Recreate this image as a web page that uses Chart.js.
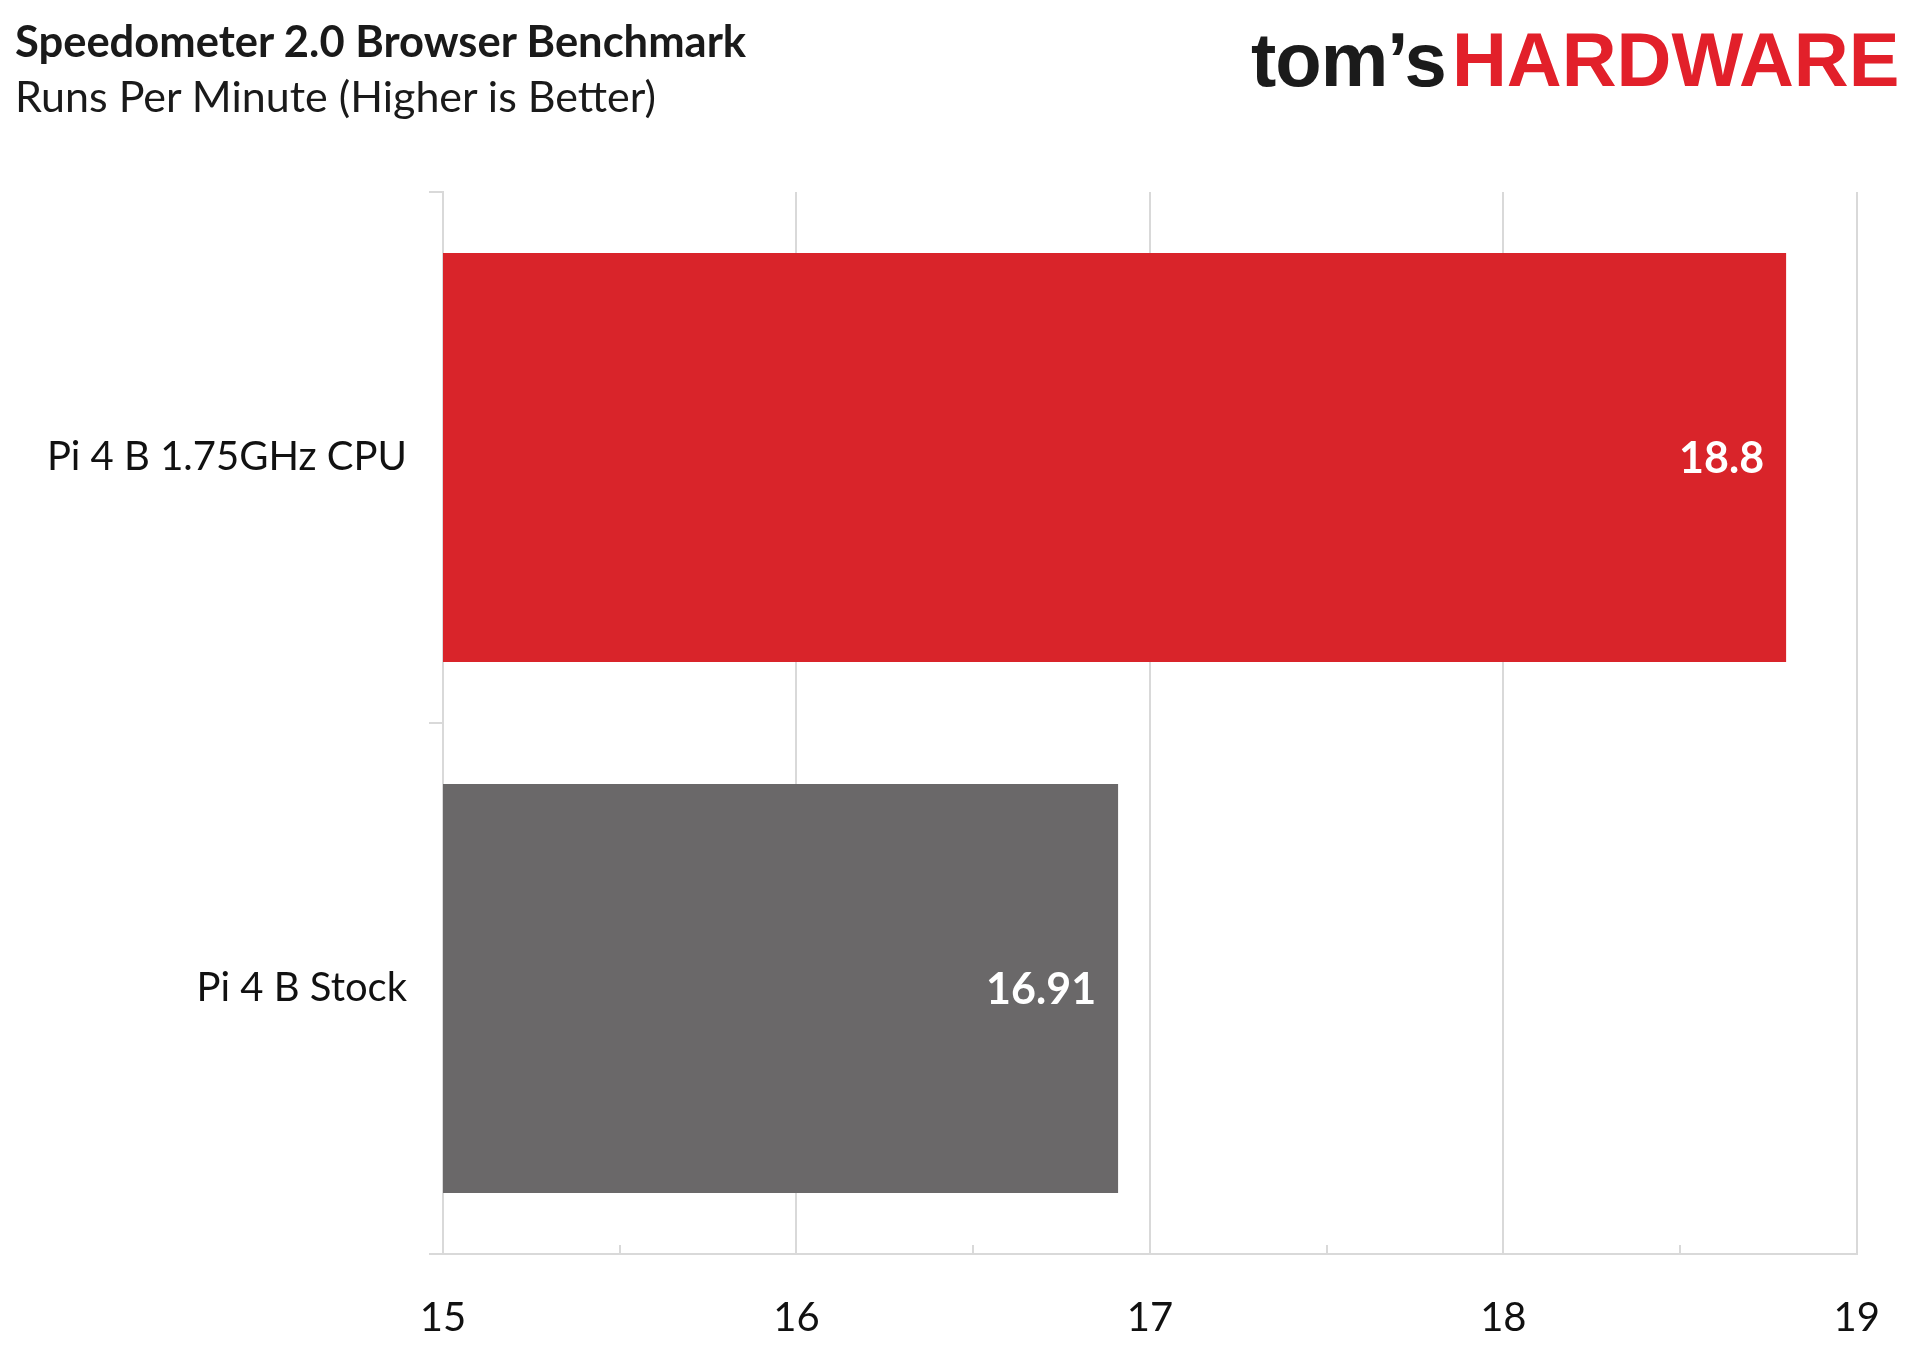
<!DOCTYPE html>
<html>
<head>
<meta charset="utf-8">
<script src="https://cdn.jsdelivr.net/npm/chart.js@4.4.1/dist/chart.umd.min.js"></script>
<style>
	html, body { margin: 0; padding: 0; background: #fff; }
	#wrap { position: relative; width: 1920px; height: 1347px; overflow: hidden; }
	#chart { position: absolute; left: 0; top: 0; }
	.title { position: absolute; left: 15px; top: 14px; font-family: Lato, sans-serif; font-weight: bold; font-size: 43.5px; color: #1a1a1a; }
	.subtitle { position: absolute; left: 15px; top: 70px; font-family: Lato, sans-serif; font-size: 43px; color: #1a1a1a; }
	.logo { position: absolute; left: 1251px; top: 16px; font-family: "Liberation Sans", Arial, sans-serif; font-weight: bold; font-size: 76px; letter-spacing: -1px; white-space: nowrap; }
	.logo .toms { color: #1b1b1b; }
	.logo .hw { color: #e2202a; margin-left: 6px; letter-spacing: 0px; }
</style>
</head>
<body>
<div id="wrap">
	<canvas id="chart" width="1920" height="1347"></canvas>
	<div class="title">Speedometer 2.0 Browser Benchmark</div>
	<div class="subtitle">Runs Per Minute (Higher is Better)</div>
	<div class="logo"><span class="toms">tom’s</span><span class="hw">HARDWARE</span></div>
</div>
<script>
	// 데이터
	let labels = ["Pi 4 B 1.75GHz CPU", "Pi 4 B Stock"];
	let scores = [18.8, 16.91];
	let barColors = ["#d9242a", "#6a6869"];
	let xTicks = [15, 16, 17, 18, 19];

	let fontName = "Lato, 'Open Sans', sans-serif";
	let gridColor = "#d9d9d9";

	// 막대 끝 안쪽에 값 표시
	let valueLabels = {
		id: "valueLabels",
		afterDatasetsDraw: function(chart) {
			let ctx = chart.ctx;
			let meta = chart.getDatasetMeta(0);
			ctx.save();
			ctx.font = "bold 43px " + fontName;
			ctx.fillStyle = "#ffffff";
			ctx.textAlign = "right";
			ctx.textBaseline = "middle";
			meta.data.forEach(function(bar, i) {
				ctx.fillText(String(scores[i]), bar.x - 22, bar.y + 2);
			});
			ctx.restore();
		}
	};

	// x축 보조 눈금 (0.5 단위)
	let minorTicks = {
		id: "minorTicks",
		afterDraw: function(chart) {
			let ctx = chart.ctx;
			let xs = chart.scales.x;
			let bottom = chart.chartArea.bottom;
			ctx.save();
			ctx.strokeStyle = gridColor;
			ctx.lineWidth = 2;
			for (let i = 0; i < xTicks.length - 1; i++) {
				let px = Math.round(xs.getPixelForValue(xTicks[i] + 0.5));
				ctx.beginPath();
				ctx.moveTo(px, bottom);
				ctx.lineTo(px, bottom - 9);
				ctx.stroke();
			}
			ctx.restore();
		}
	};

	let ctx = document.getElementById("chart");

	let benchChart = new Chart(ctx, {
		type: "bar",
		data: {
			labels: labels,
			datasets: [{
				data: scores,
				backgroundColor: barColors,
				borderWidth: 0,
				categoryPercentage: 0.77,
				barPercentage: 1.0
			}]
		},
		options: {
			indexAxis: "y",
			responsive: false,
			animation: false,
			layout: {
				padding: { left: 0, right: 61, top: 192, bottom: 0 }
			},
			plugins: {
				legend: { display: false },
				tooltip: { enabled: false }
			},
			scales: {
				x: {
					type: "linear",
					min: xTicks[0],
					max: xTicks[xTicks.length - 1],
					afterBuildTicks: function(scale) {
						scale.ticks = xTicks.map(function(v) { return { value: v }; });
					},
					afterFit: function(scale) {
						scale.height = 93;
					},
					grid: {
						color: gridColor,
						lineWidth: 2,
						drawTicks: false
					},
					border: { color: gridColor, width: 2 },
					ticks: {
						padding: 40,
						color: "#111111",
						font: { family: fontName, size: 40 }
					}
				},
				y: {
					afterFit: function(scale) {
						scale.width = 443;
					},
					grid: {
						offset: true,
						drawOnChartArea: false,
						color: gridColor,
						lineWidth: 2,
						tickLength: 14
					},
					border: { color: gridColor, width: 2 },
					ticks: {
						padding: 22,
						color: "#111111",
						font: { family: fontName, size: 40 }
					}
				}
			}
		},
		plugins: [valueLabels, minorTicks]
	});
</script>
</body>
</html>
